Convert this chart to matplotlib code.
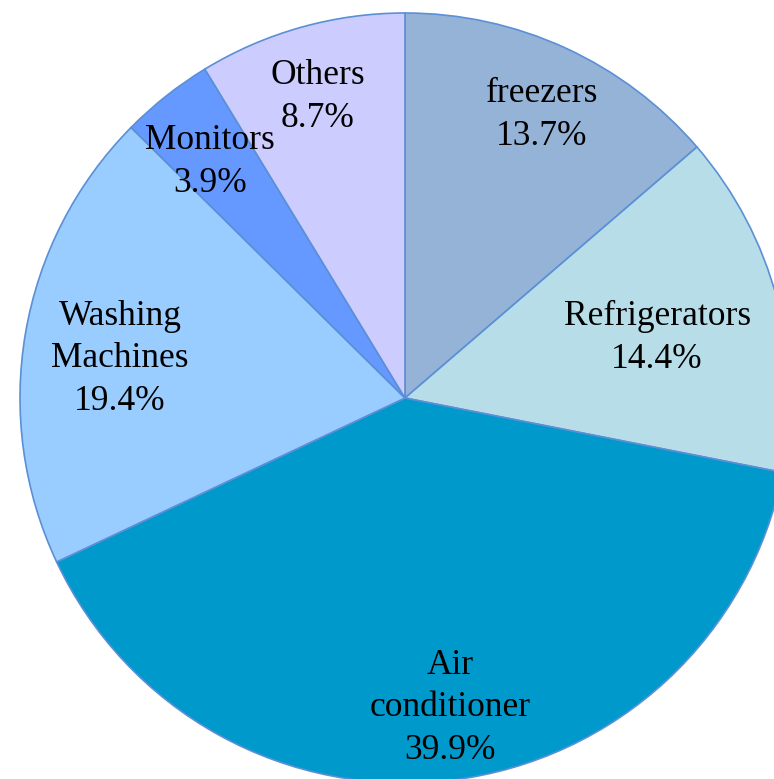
import matplotlib
matplotlib.use("Agg")
import matplotlib.pyplot as plt

labels = ["freezers", "Refrigerators", "Air\nconditioner", "Washing\nMachines", "Monitors", "Others"]
shares = [13.7, 14.4, 39.9, 19.4, 3.9, 8.7]
colors = ["#95B3D7", "#B7DEE8", "#0099CC", "#99CCFF", "#6699FF", "#CCCCFF"]

# label centres (pie radius units), placed by hand like the original
label_pos = [(0.356, 0.735), (0.655, 0.156), (0.117, -0.805),
             (-0.740, 0.102), (-0.506, 0.613), (-0.226, 0.782)]

plt.rcParams['font.family'] = ['Liberation Serif', 'DejaVu Serif']

fig = plt.figure(figsize=(7.74, 7.79), dpi=100)
ax = fig.add_axes([0, 0, 1, 1])

wedges, _ = ax.pie(shares, colors=colors, startangle=90, counterclock=False,
                   radius=1.0, wedgeprops=dict(edgecolor="#5B8FD6", linewidth=1.2))

for lab, s, (x, y) in zip(labels, shares, label_pos):
    ax.text(x, y, "%s\n%.1f%%" % (lab, s), ha="center", va="center",
            fontsize=25.5, linespacing=1.38, color="black")

cx, cy, R = 405, 398, 385
ax.set_xlim(-cx / R, (774 - cx) / R)
ax.set_ylim((cy - 779) / R, cy / R)
ax.set_aspect('auto')
ax.axis('off')

fig.savefig("out.png", dpi=100)
